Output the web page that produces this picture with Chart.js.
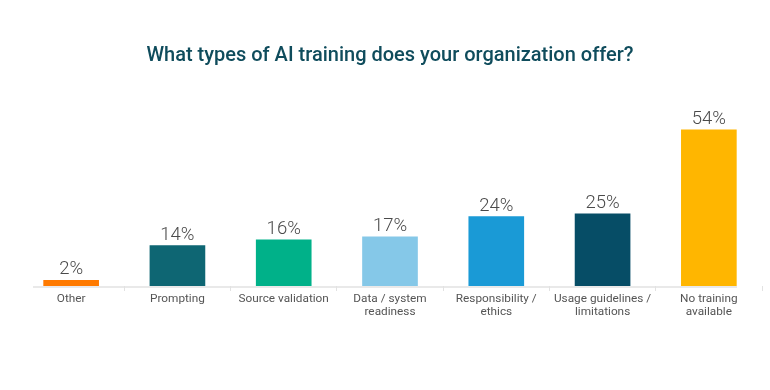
<!DOCTYPE html>
<html>
<head>
<meta charset="utf-8">
<script src="https://cdn.jsdelivr.net/npm/chart.js@4"></script>
<style>
  html, body { margin: 0; padding: 0; background: #fff; }
  #wrap { width: 770px; height: 390px; }
</style>
</head>
<body>
<div id="wrap"><canvas id="trainingChart" width="770" height="390"></canvas></div>
<script>
// chart values
var categories = [
    ['Other'],
    ['Prompting'],
    ['Source validation'],
    ['Data / system', 'readiness'],
    ['Responsibility /', 'ethics'],
    ['Usage guidelines /', 'limitations'],
    ['No training', 'available']
];
var percents = [2, 14, 16, 17, 24, 25, 54];
var barColors = ['#FF7A00', '#0E6673', '#00B189', '#85C8E8', '#1A9AD6', '#064D66', '#FFB600'];
var titleText = 'What types of AI training does your organization offer?';

// value labels over each bar
var valueLabels = {
    id: 'valueLabels',
    afterDatasetsDraw: function(chart) {
        var ctx = chart.ctx;
        var meta = chart.getDatasetMeta(0);
        ctx.save();
        ctx.font = '300 18.5px Roboto';
        ctx.fillStyle = '#4a4a4a';
        ctx.textAlign = 'center';
        ctx.textBaseline = 'alphabetic';
        meta.data.forEach(function(bar, i) {
            ctx.fillText(percents[i] + '%', bar.x, bar.y - 6);
        });
        ctx.restore();
    }
};

// baseline of the x axis
var baseLine = {
    id: 'baseLine',
    afterDraw: function(chart) {
        var ctx = chart.ctx,
            y = chart.scales.y.getPixelForValue(0);
        ctx.save();
        ctx.strokeStyle = '#e2e2e2';
        ctx.lineWidth = 1.5;
        ctx.beginPath();
        ctx.moveTo(33, y + 1);
        ctx.lineTo(737, y + 1);
        ctx.stroke();
        ctx.restore();
    }
};

var ctx = document.getElementById('trainingChart').getContext('2d');
var myBarChart = new Chart(ctx, {
    type: 'bar',
    data: {
        labels: categories,
        datasets: [{
            data: percents,
            backgroundColor: barColors,
            barThickness: 55
        }]
    },
    options: {
        responsive: false,
        animation: false,
        devicePixelRatio: 1,
        layout: {
            padding: { left: 18, right: 8, top: 0, bottom: 69 }
        },
        plugins: {
            legend: { display: false },
            tooltip: { enabled: false },
            title: {
                display: true,
                text: titleText,
                color: '#0F4C5C',
                font: { family: 'Roboto', size: 20, weight: '500' },
                padding: { top: 44, bottom: 43 }
            }
        },
        scales: {
            x: {
                border: { display: false },
                grid: {
                    drawOnChartArea: false,
                    tickLength: 5,
                    color: function(c) {
                        return (c.index === 0 || c.index === 7) ? 'rgba(0,0,0,0)' : '#e2e2e2';
                    }
                },
                ticks: {
                    autoSkip: false,
                    maxRotation: 0,
                    padding: 2,
                    color: '#555555',
                    font: { family: 'Roboto', size: 11.8, lineHeight: 1.1 }
                }
            },
            y: {
                display: false,
                min: 0,
                max: 60.5
            }
        }
    },
    plugins: [valueLabels, baseLine]
});
</script>
</body>
</html>
